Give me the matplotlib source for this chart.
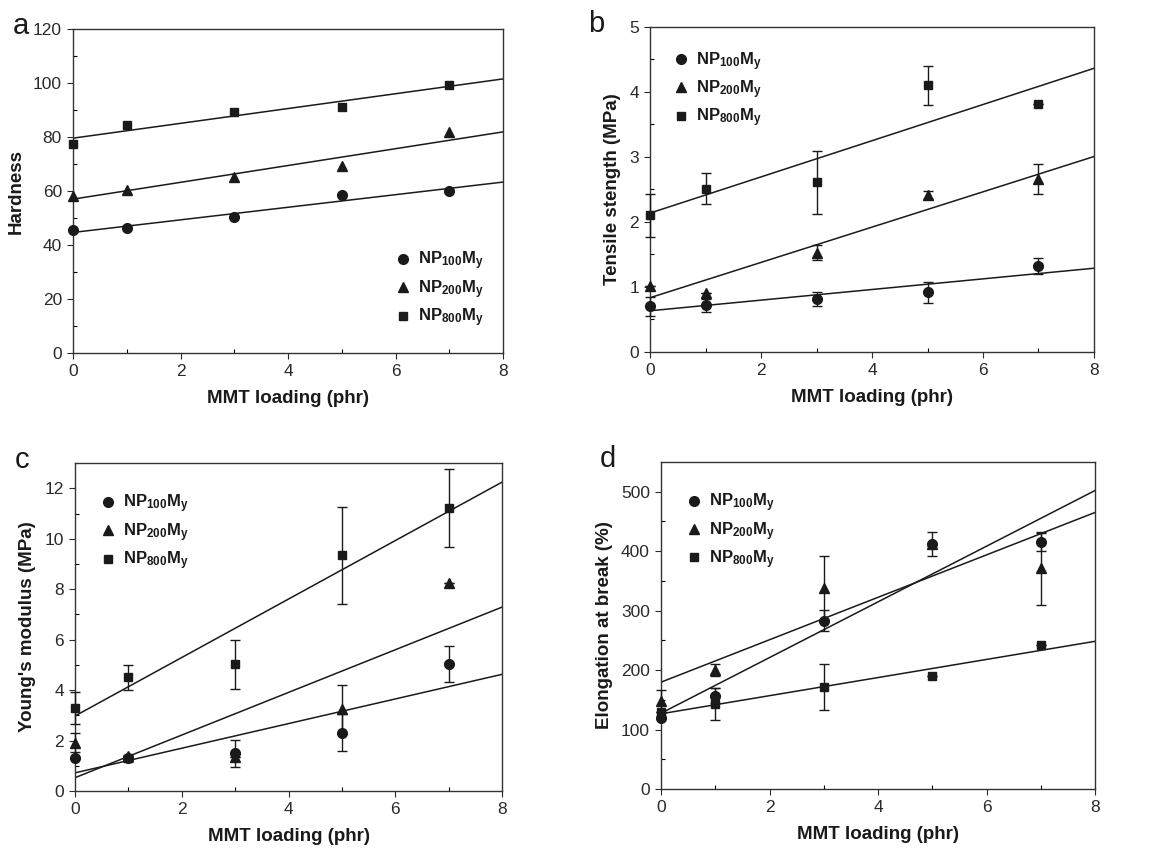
import numpy as np
import matplotlib
matplotlib.use('Agg')
import matplotlib.pyplot as plt

plt.rcParams['font.family'] = ['Liberation Sans', 'DejaVu Sans']
plt.rcParams['mathtext.fontset'] = 'custom'
plt.rcParams['mathtext.rm'] = 'Liberation Sans'
plt.rcParams['mathtext.bf'] = 'Liberation Sans:bold'

loading = [0, 1, 3, 5, 7]
series_names = [r'NP$\mathregular{_{100}}$M$\mathregular{_y}$',
                r'NP$\mathregular{_{200}}$M$\mathregular{_y}$',
                r'NP$\mathregular{_{800}}$M$\mathregular{_y}$']

# (a) hardness
hard_100 = [45.4, 46.2, 50.4, 58.6, 60.0]
hard_200 = [58.3, 60.5, 65.2, 69.1, 81.7]
hard_800 = [77.5, 84.6, 89.1, 91.2, 99.4]

# (b) tensile strength (MPa)
ts_100 = [0.70, 0.72, 0.82, 0.92, 1.32]
ts_100_err = [0.15, 0.10, 0.11, 0.16, 0.12]
ts_200 = [1.01, 0.91, 1.53, 2.41, 2.66]
ts_200_err = [0.0, 0.0, 0.12, 0.06, 0.23]
ts_800 = [2.10, 2.51, 2.61, 4.10, 3.82]
ts_800_err = [0.33, 0.24, 0.48, 0.30, 0.0]

# (c) Young's modulus (MPa)
ym_100 = [1.29, 1.29, 1.49, 2.31, 5.03]
ym_100_err = [0.0, 0.15, 0.52, 0.73, 0.70]
ym_200 = [1.91, 1.40, 1.36, 3.24, 8.25]
ym_200_err = [0.37, 0.0, 0.0, 0.96, 0.0]
ym_800 = [3.30, 4.51, 5.03, 9.34, 11.23]
ym_800_err = [0.64, 0.49, 0.97, 1.92, 1.55]

# (d) elongation at break (%)
eb_100 = [119, 157, 283, 412, 415]
eb_100_err = [0, 12, 18, 20, 15]
eb_200 = [148, 200, 338, 412, 371]
eb_200_err = [18, 10, 53, 0, 62]
eb_800 = [129, 143, 172, 190, 242]
eb_800_err = [0, 27, 39, 0, 0]

markers = ['o', '^', 's']
msizes = [7, 6.5, 6]
ink = '#1a1a1a'

panels = [
    dict(pos=[0.0633, 0.5842, 0.3726, 0.3816], letter='a', ylabel='Hardness',
         ylim=(0, 120), yticks=np.arange(0, 121, 20), yminor=10,
         data=[hard_100, hard_200, hard_800], err=None, legend=(0.72, 0.35)),
    dict(pos=[0.5633, 0.5854, 0.3847, 0.3828], letter='b', ylabel='Tensile stength (MPa)',
         ylim=(0, 5), yticks=np.arange(0, 6, 1), yminor=0.5,
         data=[ts_100, ts_200, ts_800], err=[ts_100_err, ts_200_err, ts_800_err], legend=(0.025, 0.96)),
    dict(pos=[0.0650, 0.0683, 0.3700, 0.3863], letter='c', ylabel="Young's modulus (MPa)",
         ylim=(0, 13), yticks=np.arange(0, 13, 2), yminor=1,
         data=[ym_100, ym_200, ym_800], err=[ym_100_err, ym_200_err, ym_800_err], legend=(0.03, 0.94)),
    dict(pos=[0.5728, 0.0707, 0.3761, 0.3852], letter='d', ylabel='Elongation at break (%)',
         ylim=(0, 550), yticks=np.arange(0, 501, 100), yminor=50,
         data=[eb_100, eb_200, eb_800], err=[eb_100_err, eb_200_err, eb_800_err], legend=(0.03, 0.94)),
]

fig = plt.figure(figsize=(11.54, 8.49), dpi=100)
xs = np.array(loading, dtype=float)
xfit = np.array([0, 8])

for p in panels:
    ax = fig.add_axes(p['pos'])
    handles = []
    for k in range(3):
        y = np.array(p['data'][k], dtype=float)
        if p['err'] is not None:
            ax.errorbar(xs, y, yerr=p['err'][k], fmt='none', ecolor=ink, elinewidth=1,
                        capsize=3.8, capthick=1, clip_on=False, zorder=3)
        h, = ax.plot(xs, y, linestyle='none', marker=markers[k], ms=msizes[k],
                     color=ink, clip_on=False, zorder=4, label=series_names[k])
        handles.append(h)
        # least-squares fit line, as in the original figure
        slope, icpt = np.polyfit(xs, y, 1)
        ax.plot(xfit, icpt + slope * xfit, color=ink, lw=1.1, zorder=2)

    ax.set_xlim(0, 8)
    ax.set_ylim(*p['ylim'])
    ax.set_xticks([0, 2, 4, 6, 8])
    ax.set_yticks(p['yticks'])
    ax.set_xticks([1, 3, 5, 7], minor=True)
    ax.set_yticks(np.arange(p['yminor'], p['ylim'][1], p['yminor'] * 2), minor=True)
    ax.tick_params(which='major', direction='out', length=4, width=0.8, labelsize=12.5,
                   colors='#2a2a2a', pad=4)
    ax.tick_params(which='minor', direction='in', length=3, width=0.8)
    for s in ax.spines.values():
        s.set_linewidth(1.0)
        s.set_color('#333333')
    ax.set_xlabel('MMT loading (phr)', fontsize=13.5, fontweight='bold', color=ink, labelpad=8)
    ax.set_ylabel(p['ylabel'], fontsize=13.5, fontweight='bold', color=ink, labelpad=6)
    ax.text(-0.14, 0.985, p['letter'], transform=ax.transAxes, fontsize=21,
            color=ink, va='baseline', ha='left')
    leg = ax.legend(handles=handles, loc='upper left', bbox_to_anchor=p['legend'],
                    frameon=False, fontsize=12, handletextpad=0.3, labelspacing=0.35,
                    handlelength=1.2, borderaxespad=0.2)
    for t in leg.get_texts():
        t.set_fontweight('bold')
        t.set_color(ink)

fig.savefig('out.png', dpi=100)
